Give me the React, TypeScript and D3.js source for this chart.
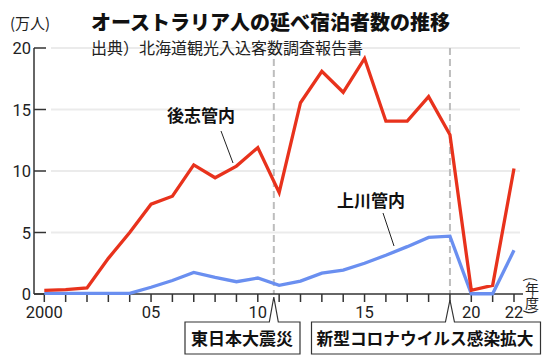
import React from 'react';
import * as d3 from 'd3';

const years = [2000, 2001, 2002, 2003, 2004, 2005, 2006, 2007, 2008, 2009, 2010, 2011,
  2012, 2013, 2014, 2015, 2016, 2017, 2018, 2019, 2020, 2021, 2022];
// 後志管内 (万人)
const shiribeshi = [0.3, 0.35, 0.5, 2.9, 5.0, 7.3, 7.95, 10.5, 9.45, 10.4, 11.9, 8.25,
  15.55, 18.1, 16.4, 19.15, 14.05, 14.05, 16.05, 12.95, 0.3, 0.7, 10.2];
// 上川管内 (万人)
const kamikawa = [0.05, 0.05, 0.05, 0.05, 0.05, 0.55, 1.1, 1.75, 1.35, 1.0, 1.3, 0.7,
  1.05, 1.7, 1.95, 2.5, 3.15, 3.85, 4.6, 4.7, 0.02, 0.02, 3.55];
const yTicks = [0, 5, 10, 15, 20];
const xLabels = [
  { year: 2000, text: '2000' },
  { year: 2005, text: '05' },
  { year: 2010, text: '10' },
  { year: 2015, text: '15' },
  { year: 2020, text: '20' },
  { year: 2022, text: '22' },
];
// events (fiscal-year boundaries)
const events = [
  { at: 2010.75, label: '東日本大震災' },
  { at: 2019, label: '新型コロナウイルス感染拡大' },
];

const JP = '"Noto Sans CJK JP", "Noto Sans", sans-serif';
const NUM = 'Roboto, "Noto Sans", sans-serif';

export default function App() {
  const x = d3.scaleLinear().domain([2000, 2022]).range([44.3, 514]);
  const y = d3.scaleLinear().domain([0, 20]).range([294, 48]);

  const line = d3.line<number>()
    .x((d, i) => x(years[i]))
    .y(d => y(d));

  const axisX0 = 34;
  const axisX1 = 523;
  const boxTop = 322;
  const boxBottom = 354;

  // annotation box outline with a peak pointing up to the event line
  const boxPath = (left: number, right: number, peakX: number, apexY: number) =>
    `M${left},${boxTop} L${peakX - 4.5},${boxTop} L${peakX},${apexY} L${peakX + 4.5},${boxTop} ` +
    `L${right},${boxTop} L${right},${boxBottom} L${left},${boxBottom} Z`;

  return (
    <svg width={550} height={363} style={{ position: 'absolute', left: 0, top: 0, background: '#fff' }}>
      {/* gridlines */}
      {yTicks.filter(t => t > 0).map(t => (
        <line key={'g' + t} x1={51} x2={520} y1={y(t)} y2={y(t)} stroke="#ebebeb" strokeWidth={2} />
      ))}

      {/* event dashed lines */}
      {events.map(e => (
        <line key={'d' + e.at} x1={x(e.at)} x2={x(e.at)} y1={48} y2={294}
          stroke="#bdbdbd" strokeWidth={2} strokeDasharray="7,4" />
      ))}

      {/* axes */}
      <line x1={axisX0} x2={axisX0} y1={y(20)} y2={294} stroke="#333" strokeWidth={1.5} />
      {yTicks.map(t => (
        <g key={'yt' + t}>
          <line x1={axisX0} x2={46} y1={y(t)} y2={y(t)} stroke="#333" strokeWidth={1.5} />
          <text x={31} y={y(t) + 6} textAnchor="end" fontFamily={NUM} fontSize={16.5} fill="#222">{t}</text>
        </g>
      ))}
      <line x1={axisX0} x2={axisX1} y1={294} y2={294} stroke="#333" strokeWidth={1.5} />
      {years.map(yr => (
        <line key={'xt' + yr} x1={x(yr)} x2={x(yr)} y1={294} y2={302} stroke="#333" strokeWidth={1.5} />
      ))}
      {xLabels.map(l => (
        <text key={'xl' + l.year} x={x(l.year)} y={318} textAnchor="middle" fontFamily={NUM} fontSize={16.5} fill="#222">
          {l.text}
        </text>
      ))}

      {/* (年度) vertical */}
      <text x={532} y={277} fontFamily={JP} fontSize={14} fill="#222"
        style={{ writingMode: 'vertical-rl' }}>(年度)</text>

      {/* series */}
      <path d={line(kamikawa) || ''} fill="none" stroke="#6a8ff0" strokeWidth={3.3} strokeLinejoin="miter" />
      <path d={line(shiribeshi) || ''} fill="none" stroke="#e8321c" strokeWidth={3.3} strokeLinejoin="miter" />

      {/* series labels */}
      <text x={201} y={122} textAnchor="middle" fontFamily={JP} fontSize={17} fontWeight={700} fill="#111">後志管内</text>
      <line x1={221} y1={131} x2={233} y2={163} stroke="#222" strokeWidth={1} />
      <text x={371} y={207} textAnchor="middle" fontFamily={JP} fontSize={17} fontWeight={700} fill="#111">上川管内</text>
      <line x1={383} y1={213} x2={394} y2={246} stroke="#222" strokeWidth={1} />

      {/* event boxes */}
      <path d={boxPath(185, 300, x(events[0].at), 297)} fill="#fff" stroke="#333" strokeWidth={1.2} />
      <text x={242} y={345} textAnchor="middle" fontFamily={JP} fontSize={17} fontWeight={700} fill="#111">
        {events[0].label}
      </text>
      <path d={boxPath(311.5, 540.5, x(events[1].at), 300)} fill="#fff" stroke="#333" strokeWidth={1.2} />
      <text x={425} y={345} textAnchor="middle" fontFamily={JP} fontSize={16.7} fontWeight={700} fill="#111">
        {events[1].label}
      </text>

      {/* titles */}
      <text x={10} y={29} fontFamily={JP} fontSize={15} fill="#222">(万人)</text>
      <text x={91} y={30} fontFamily={JP} fontSize={20} fontWeight={900} fill="#111">
        オーストラリア人の延べ宿泊者数の推移
      </text>
      <text x={91} y={54} fontFamily={JP} fontSize={16} fill="#222">出典）北海道観光入込客数調査報告書</text>
    </svg>
  );
}
